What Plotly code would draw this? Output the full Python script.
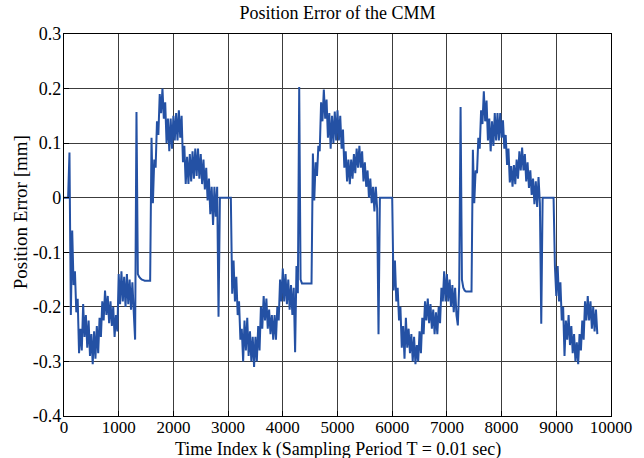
import numpy as np
import plotly.graph_objects as go

# Sampling: one stored point every 25 samples of the error record
SAMPLE_STEP = 25

# Position error [mm], stored in blocks of 1000 samples (40 points each)
err_k0000 = [0, 0, 0, 0, 0.083, -0.215, -0.06, -0.16, -0.135, -0.21,
             -0.185, -0.285, -0.24, -0.28, -0.195, -0.255, -0.215, -0.275, -0.225, -0.29,
             -0.25, -0.305, -0.245, -0.295, -0.235, -0.285, -0.22, -0.255, -0.19, -0.225,
             -0.17, -0.215, -0.18, -0.23, -0.19, -0.235, -0.20, -0.255, -0.215, -0.245]
err_k1000 = [-0.14, -0.195, -0.135, -0.19, -0.145, -0.20, -0.14, -0.195, -0.15, -0.205,
             -0.155, -0.21, -0.26, 0.157, -0.14, -0.145, -0.148, -0.15, -0.151, -0.152,
             -0.152, -0.152, -0.152, -0.152, 0.11, -0.01, 0.07, 0.055, 0.14, 0.115,
             0.19, 0.155, 0.20, 0.145, 0.175, 0.10, 0.145, 0.085, 0.145, 0.09]
err_k2000 = [0.15, 0.105, 0.155, 0.105, 0.16, 0.11, 0.15, 0.065, 0.095, 0.025,
             0.075, 0.025, 0.08, 0.03, 0.085, 0.035, 0.09, 0.04, 0.09, 0.035,
             0.08, 0.025, 0.07, 0.015, 0.055, -0.005, 0.035, -0.03, 0.02, -0.05,
             0.02, -0.035, 0.02, -0.218, 0, 0, 0, 0, 0, 0]
err_k3000 = [0, 0, 0, -0.176, -0.115, -0.19, -0.145, -0.215, -0.19, -0.26,
             -0.24, -0.30, -0.225, -0.28, -0.22, -0.29, -0.245, -0.30, -0.255, -0.31,
             -0.255, -0.30, -0.235, -0.28, -0.20, -0.24, -0.18, -0.225, -0.185, -0.24,
             -0.205, -0.25, -0.215, -0.26, -0.215, -0.26, -0.20, -0.225, -0.15, -0.19]
err_k4000 = [-0.13, -0.19, -0.14, -0.195, -0.15, -0.205, -0.16, -0.215, -0.165, -0.283,
             -0.125, -0.175, 0.203, -0.15, -0.157, -0.157, -0.157, -0.157, -0.157, -0.157,
             -0.157, -0.157, 0.081, -0.005, 0.065, 0.04, 0.095, 0.085, 0.175, 0.14,
             0.198, 0.145, 0.18, 0.11, 0.155, 0.09, 0.15, 0.10, 0.158, 0.105]
err_k5000 = [0.16, 0.105, 0.15, 0.09, 0.125, 0.055, 0.085, 0.03, 0.07, 0.025,
             0.07, 0.035, 0.08, 0.045, 0.09, 0.055, 0.095, 0.055, 0.085, 0.03,
             0.065, 0.02, 0.05, 0.0, 0.035, -0.01, 0.02, -0.025, 0.02, -0.02,
             -0.25, 0, 0, 0, 0, 0, 0, 0, 0, 0]
err_k6000 = [0, -0.17, -0.115, -0.19, -0.165, -0.225, -0.20, -0.275, -0.235, -0.295,
             -0.22, -0.275, -0.24, -0.285, -0.25, -0.30, -0.255, -0.305, -0.27, -0.30,
             -0.245, -0.285, -0.22, -0.25, -0.19, -0.225, -0.185, -0.23, -0.195, -0.24,
             -0.205, -0.25, -0.21, -0.25, -0.20, -0.23, -0.165, -0.19, -0.135, -0.19]
err_k7000 = [-0.14, -0.19, -0.15, -0.20, -0.16, -0.21, -0.165, -0.215, -0.234, -0.16,
             0.166, -0.15, -0.165, -0.17, -0.172, -0.172, -0.172, -0.172, -0.172, 0.088,
             -0.01, 0.05, 0.045, 0.11, 0.09, 0.16, 0.135, 0.195, 0.14, 0.178,
             0.105, 0.145, 0.085, 0.14, 0.095, 0.155, 0.105, 0.155, 0.105, 0.155]
err_k8000 = [0.11, 0.142, 0.09, 0.115, 0.06, 0.09, 0.028, 0.058, 0.02, 0.06,
             0.025, 0.07, 0.035, 0.085, 0.05, 0.092, 0.05, 0.08, 0.03, 0.065,
             0.018, 0.05, 0.005, 0.035, -0.012, 0.03, -0.017, 0.038, -0.01, -0.231,
             0, 0, 0, 0, 0, 0, 0, 0, 0, -0.127]
err_k9000 = [-0.18, -0.125, -0.19, -0.155, -0.225, -0.20, -0.29, -0.225, -0.26, -0.215,
             -0.27, -0.235, -0.285, -0.25, -0.30, -0.265, -0.305, -0.25, -0.28, -0.225,
             -0.26, -0.19, -0.225, -0.18, -0.225, -0.19, -0.24, -0.20, -0.245, -0.205,
             -0.25]

x_ticks = [0, 1000, 2000, 3000, 4000, 5000, 6000, 7000, 8000, 9000, 10000]
y_ticks = [-0.4, -0.3, -0.2, -0.1, 0, 0.1, 0.2, 0.3]
y_tick_labels = ["-0.4", "-0.3", "-0.2", "-0.1", "0", "0.1", "0.2", "0.3"]

err = np.concatenate([err_k0000, err_k1000, err_k2000, err_k3000, err_k4000,
                      err_k5000, err_k6000, err_k7000, err_k8000, err_k9000])
k = np.arange(len(err)) * SAMPLE_STEP

SERIF = "Liberation Serif, Times New Roman, serif"
GRID = "#3c3c3c"

fig = go.Figure()
fig.add_trace(go.Scatter(
    x=k, y=err, mode="lines",
    line=dict(color="#2451a4", width=2.0, simplify=False),
    showlegend=False, hoverinfo="skip",
))

axis_common = dict(
    showgrid=True, gridcolor=GRID, gridwidth=1.2,
    showline=True, linecolor="#000000", linewidth=1.2, mirror=True,
    ticks="inside", ticklen=5, tickcolor="#000000",
    zeroline=False,
)

fig.update_xaxes(range=[0, 10000], tickvals=x_ticks,
                 ticktext=[str(t) for t in x_ticks], ticklabelstandoff=-5,
                 tickfont=dict(family=SERIF, size=17, color="#000000"),
                 **axis_common)
fig.update_yaxes(range=[-0.4, 0.3], tickvals=y_ticks,
                 ticktext=y_tick_labels, ticklabelstandoff=-2,
                 tickfont=dict(family=SERIF, size=18, color="#000000"),
                 **axis_common)

fig.update_layout(
    width=644, height=458,
    margin=dict(l=64, r=30, t=34, b=42),
    paper_bgcolor="white", plot_bgcolor="white",
    font=dict(family=SERIF, color="#000000"),
    title=dict(text="Position Error of the CMM", x=0.5, xref="paper",
               y=0.972, yref="container", yanchor="middle",
               font=dict(family=SERIF, size=18, color="#000000")),
    annotations=[
        dict(text="Time Index k (Sampling Period T = 0.01 sec)",
             xref="paper", yref="paper", x=0.5, y=-0.088,
             xanchor="center", yanchor="middle", showarrow=False,
             font=dict(family=SERIF, size=18, color="#000000")),
        dict(text="Position Error [mm]",
             xref="paper", yref="paper", x=-0.08, y=0.534, textangle=-90,
             xanchor="center", yanchor="middle", showarrow=False,
             font=dict(family=SERIF, size=19, color="#000000")),
    ],
)

fig.write_html("out.html")
